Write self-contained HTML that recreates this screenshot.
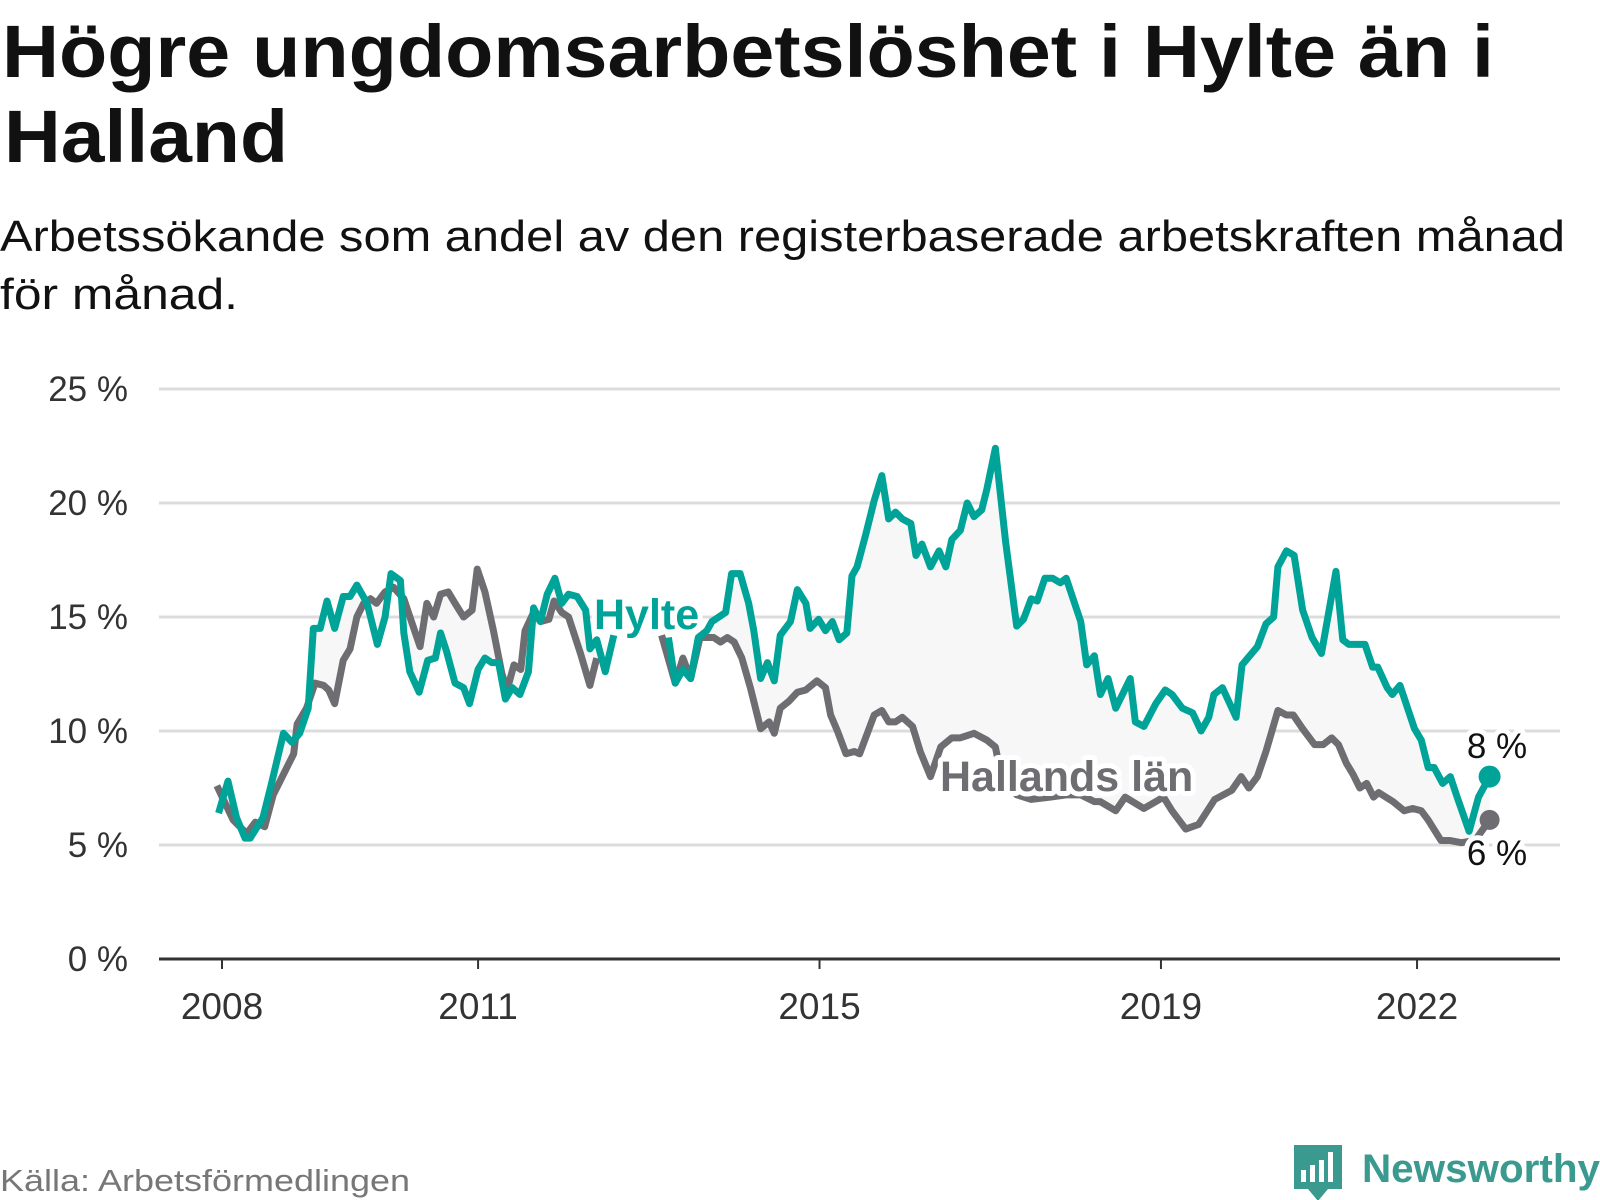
<!DOCTYPE html>
<html><head><meta charset="utf-8"><style>
html,body{margin:0;padding:0;background:#fff;width:1600px;height:1200px;overflow:hidden}
svg{display:block}
text{font-family:"Liberation Sans",sans-serif}
</style></head><body>
<svg id="chart" width="1600" height="1200" viewBox="0 0 1600 1200">
<text x="2" y="77" font-size="74" font-weight="bold" fill="#111" textLength="1492" lengthAdjust="spacingAndGlyphs">Högre ungdomsarbetslöshet i Hylte än i</text>
<text x="4" y="162" font-size="74" font-weight="bold" fill="#111" textLength="284" lengthAdjust="spacingAndGlyphs">Halland</text>
<text x="0" y="251" font-size="44" fill="#111" textLength="1565" lengthAdjust="spacingAndGlyphs">Arbetssökande som andel av den registerbaserade arbetskraften månad</text>
<text x="0" y="309" font-size="44" fill="#111" textLength="238" lengthAdjust="spacingAndGlyphs">för månad.</text>
<g id="grid"></g><g id="area"></g><g id="lines"></g><g id="labels"></g>
<text x="0" y="1191" font-size="31" fill="#777" textLength="410" lengthAdjust="spacingAndGlyphs">Källa: Arbetsförmedlingen</text>
<g>
<path d="M1294 1145 h48 v44 h-14 l-10 12 l-10 -12 h-14 z" fill="#3a9a8f"/>
<rect x="1301" y="1170" width="5" height="12" fill="#fff"/><rect x="1310" y="1165" width="5" height="17" fill="#fff"/><rect x="1319" y="1160" width="5" height="22" fill="#fff"/><rect x="1328" y="1152" width="5" height="30" fill="#fff"/>
<text x="1362" y="1182" font-size="40" font-weight="bold" fill="#3a9a8f" textLength="238" lengthAdjust="spacingAndGlyphs">Newsworthy</text>
</g>
</svg>
<script>
const yTicks=[0,5,10,15,20,25];
const yTickLabels=["0 %","5 %","10 %","15 %","20 %","25 %"];
const xTicks=[2008,2011,2015,2019,2022];
const xTickLabels=["2008","2011","2015","2019","2022"];
const hylteYears=[2007.96,2008.07,2008.17,2008.27,2008.33,2008.43,2008.48,2008.58,2008.72,2008.82,2008.91,2009.01,2009.07,2009.15,2009.23,2009.32,2009.42,2009.5,2009.58,2009.7,2009.82,2009.91,2009.98,2010.09,2010.13,2010.2,2010.31,2010.41,2010.5,2010.56,2010.63,2010.73,2010.83,2010.9,2011.0,2011.08,2011.16,2011.24,2011.32,2011.4,2011.49,2011.59,2011.65,2011.73,2011.81,2011.9,2011.98,2012.06,2012.16,2012.26,2012.31,2012.39,2012.49,2012.59,null,
2013.23,2013.31,2013.4,2013.49,2013.58,2013.68,2013.74,2013.9,2013.97,2014.07,2014.17,2014.23,2014.31,2014.39,2014.47,2014.54,2014.66,2014.74,2014.84,2014.89,2014.99,2015.07,2015.15,2015.23,2015.32,2015.38,2015.44,2015.54,2015.64,2015.73,2015.81,2015.89,2015.97,2016.07,2016.13,2016.2,2016.3,2016.4,2016.48,2016.55,2016.65,2016.73,2016.81,2016.9,2016.96,2017.06,2017.18,2017.31,2017.39,2017.48,2017.55,2017.64,2017.73,2017.82,2017.89,2018.06,2018.13,2018.22,2018.29,2018.38,2018.47,2018.64,2018.7,2018.8,2018.94,2019.05,2019.13,2019.25,2019.37,2019.47,2019.56,2019.62,2019.72,2019.88,2019.95,2020.13,2020.23,2020.32,2020.37,2020.47,2020.56,2020.66,2020.77,2020.88,2021.05,2021.13,2021.2,2021.39,2021.48,2021.54,2021.65,2021.71,2021.8,2021.97,2022.05,2022.13,2022.2,2022.3,2022.39,2022.47,2022.61,2022.72,2022.85];
const hylteValues=[6.4,7.8,6.2,5.3,5.3,5.9,6.2,7.7,9.9,9.5,9.9,11.0,14.5,14.5,15.7,14.5,15.9,15.9,16.4,15.6,13.8,15.0,16.9,16.6,14.3,12.6,11.7,13.1,13.2,14.3,13.5,12.1,11.9,11.2,12.7,13.2,13.0,13.0,11.4,11.9,11.6,12.6,15.4,14.8,16.0,16.7,15.6,16.0,15.9,15.3,13.6,14.0,12.6,14.2,null,
14.1,12.1,12.7,12.3,14.1,14.4,14.8,15.2,16.9,16.9,15.6,14.4,12.3,13.0,12.2,14.2,14.8,16.2,15.6,14.5,14.9,14.4,14.8,14.0,14.3,16.8,17.2,18.6,20.1,21.2,19.3,19.6,19.3,19.1,17.7,18.2,17.2,17.9,17.2,18.4,18.8,20.0,19.4,19.7,20.6,22.4,18.3,14.6,14.9,15.8,15.7,16.7,16.7,16.5,16.7,14.8,12.9,13.3,11.6,12.3,11.0,12.3,10.4,10.2,11.2,11.8,11.6,11.0,10.8,10.0,10.6,11.6,11.9,10.6,12.9,13.7,14.7,15.0,17.2,17.9,17.7,15.3,14.1,13.4,17.0,14.0,13.8,13.8,12.8,12.8,11.9,11.6,12.0,10.1,9.6,8.4,8.4,7.7,8.0,7.1,5.6,7.1,8.0];
const hallandYears=[2007.94,2008.13,2008.29,2008.39,2008.5,2008.6,2008.68,2008.84,2008.88,2008.99,2009.09,2009.19,2009.25,2009.32,2009.42,2009.5,2009.58,2009.66,2009.74,2009.81,2009.91,2010.01,2010.13,2010.22,2010.32,2010.4,2010.48,2010.56,2010.65,2010.73,2010.83,2010.93,2010.99,2011.08,2011.18,2011.28,2011.34,2011.42,2011.5,2011.55,2011.65,2011.73,2011.83,2011.89,2011.98,2012.06,2012.2,2012.31,2012.39,null,
2013.15,2013.31,2013.4,2013.49,2013.6,2013.76,2013.84,2013.92,2014.0,2014.09,2014.19,2014.31,2014.41,2014.47,2014.54,2014.64,2014.74,2014.84,2014.97,2015.07,2015.13,2015.21,2015.31,2015.41,2015.47,2015.64,2015.73,2015.81,2015.89,2015.97,2016.09,2016.18,2016.3,2016.42,2016.55,2016.65,2016.73,2016.81,2016.96,2017.06,2017.12,2017.31,2017.48,2017.7,2017.9,2018.06,2018.22,2018.29,2018.47,2018.58,2018.8,2019.03,2019.13,2019.29,2019.44,2019.63,2019.83,2019.94,2020.03,2020.13,2020.23,2020.37,2020.47,2020.55,2020.66,2020.8,2020.9,2021.0,2021.08,2021.17,2021.25,2021.33,2021.41,2021.49,2021.55,2021.72,2021.85,2021.95,2022.05,2022.13,2022.28,2022.38,2022.52,2022.68,2022.85];
const hallandValues=[7.6,6.1,5.5,6.0,5.8,7.2,7.8,9.0,10.3,11.0,12.1,12.0,11.8,11.2,13.1,13.6,15.0,15.6,15.8,15.6,16.1,16.3,15.8,14.8,13.7,15.6,15.0,16.0,16.1,15.6,15.0,15.3,17.1,16.1,14.4,12.5,11.8,12.9,12.7,14.4,15.2,14.8,14.9,15.7,15.2,15.0,13.4,12.0,13.2,null,
14.2,12.1,13.2,12.3,14.1,14.1,13.9,14.1,13.9,13.2,11.9,10.1,10.4,9.9,11.0,11.3,11.7,11.8,12.2,11.9,10.7,10.0,9.0,9.1,9.0,10.7,10.9,10.4,10.4,10.6,10.2,9.1,8.0,9.3,9.7,9.7,9.8,9.9,9.6,9.3,8.2,7.2,7.0,7.1,7.2,7.2,6.9,6.9,6.5,7.1,6.6,7.1,6.5,5.7,5.9,7.0,7.4,8.0,7.5,8.0,9.1,10.9,10.7,10.7,10.1,9.4,9.4,9.7,9.4,8.6,8.1,7.5,7.7,7.1,7.3,6.9,6.5,6.6,6.5,6.1,5.2,5.2,5.1,5.2,6.1];

const NS="http://www.w3.org/2000/svg";
const X0=222,PX_PER_YEAR=85.36,Y0=959,PX_PER_PCT=22.8,XL=159,XR=1560;
const xs=y=>X0+(y-2008)*PX_PER_YEAR;
const ys=v=>Y0-v*PX_PER_PCT;
function mk(tag,attrs,parent){const e=document.createElementNS(NS,tag);for(const k in attrs)e.setAttribute(k,attrs[k]);parent.appendChild(e);return e;}
const grid=document.getElementById('grid');
yTicks.forEach((t,i)=>{
  if(t>0){const l=mk('line',{x1:XL,x2:XR,y1:ys(t),y2:ys(t),stroke:'#dcdcdc','stroke-width':3},grid);
  
  }
  const tx=mk('text',{x:128,y:ys(t)+12,'font-size':35,fill:'#333','text-anchor':'end'},grid);
  tx.textContent=yTickLabels[i];
  
  
});
const ax=mk('line',{x1:XL,x2:XR,y1:Y0,y2:Y0,stroke:'#333','stroke-width':3},grid);


xTicks.forEach((t,i)=>{
  const tk=mk('line',{x1:xs(t),x2:xs(t),y1:Y0,y2:Y0+10,stroke:'#333','stroke-width':2},grid);
  
  
  const tx=mk('text',{x:xs(t),y:1019,'font-size':37,fill:'#333','text-anchor':'middle'},grid);
  tx.textContent=xTickLabels[i];
  
  
});
function segs(yr,vals){const out=[];let cur=[];yr.forEach((y,i)=>{if(y===null||vals[i]===null){if(cur.length)out.push(cur);cur=[];}else cur.push([xs(y),ys(vals[i])]);});if(cur.length)out.push(cur);return out;}
const hs=segs(hylteYears,hylteValues),gs=segs(hallandYears,hallandValues);
const area=document.getElementById('area');
hs.forEach((s,i)=>{const g=gs[i];const pts=s.concat(g.slice().reverse());
  const p=mk('polygon',{points:pts.map(p=>p.join(',')).join(' '),fill:'#f7f7f7'},area);
  
  });
const lines=document.getElementById('lines');
gs.forEach(s=>{const p=mk('polyline',{points:s.map(p=>p.join(',')).join(' '),fill:'none',stroke:'#6e6d72','stroke-width':7,'stroke-linejoin':'round'},lines);
  
  });
hs.forEach(s=>{const p=mk('polyline',{points:s.map(p=>p.join(',')).join(' '),fill:'none',stroke:'#00a398','stroke-width':7,'stroke-linejoin':'round'},lines);
  
  });
const gl=gs[gs.length-1],hl=hs[hs.length-1];
const gd=mk('circle',{cx:gl[gl.length-1][0],cy:gl[gl.length-1][1],r:10,fill:'#6e6d72'},lines);


const hd=mk('circle',{cx:hl[hl.length-1][0],cy:hl[hl.length-1][1],r:11,fill:'#00a398'},lines);


const labels=document.getElementById('labels');
function lab(txt,x,y,size,fill,bold,name,anchor){const t=mk('text',{x:x,y:y,'font-size':size,fill:fill,'font-weight':bold?'bold':'normal',stroke:'#fff','stroke-width':10,'paint-order':'stroke','stroke-linejoin':'round','text-anchor':anchor||'start'},labels);t.textContent=txt;
  
  }
lab('Hylte',594,629,43,'#00a398',true,'hylte-label');
lab('Hallands län',940,791,43,'#6e6d72',true,'hallands-lan-label');
lab('8 %',1497,758,35,'#111',false,'hylte-end-value','middle');
lab('6 %',1497,865,35,'#111',false,'hallands-lan-end-value','middle');
</script>
</body></html>
